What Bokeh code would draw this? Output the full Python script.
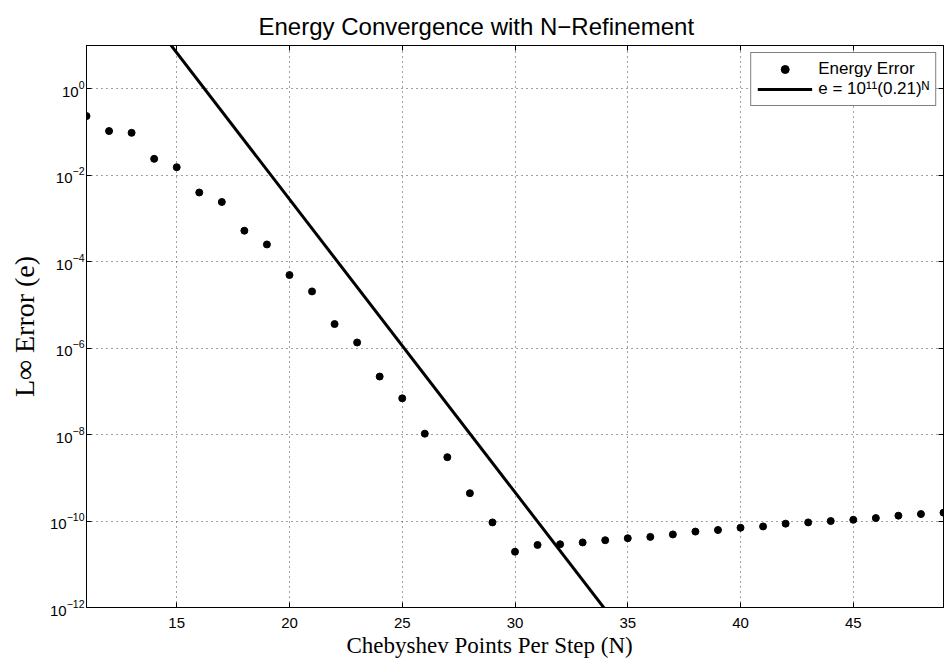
from bokeh.plotting import figure
from bokeh.models import (FixedTicker, Range1d, Legend, LegendItem, Title, ColumnDataSource,
                          LinearAxis, LogAxis)
from bokeh.embed import file_html
from bokeh.resources import INLINE

# ---- data ----
N = list(range(11, 50))
energy_error = [
    0.233, 0.105, 0.0955, 0.0239, 0.0153, 0.00398, 0.0024, 5.2e-4, 2.5e-4, 4.9e-5,
    2.05e-5, 3.6e-6, 1.35e-6, 2.2e-7, 6.9e-8, 1.05e-8, 3.0e-9, 4.4e-10, 9.3e-11, 1.95e-11,
    2.8e-11, 2.9e-11, 3.2e-11, 3.6e-11, 4.0e-11, 4.3e-11, 4.9e-11, 5.7e-11, 6.2e-11, 7.0e-11,
    7.5e-11, 8.7e-11, 9.3e-11, 1.0e-10, 1.07e-10, 1.17e-10, 1.33e-10, 1.45e-10, 1.56e-10,
]
# fitted line from the legend: e = 10^11 (0.21)^N
fit_coef = 1e11
fit_base = 0.21
fit_N = [11, 49]
fit_e = [fit_coef * fit_base ** n for n in fit_N]

x_ticks = [15, 20, 25, 30, 35, 40, 45]
y_ticks = [1e-12, 1e-10, 1e-8, 1e-6, 1e-4, 1e-2, 1e0]

title_text = "Energy Convergence with N\u2212Refinement"
xlabel_text = "Chebyshev Points Per Step (N)"
ylabel_text = "L\u221e Error (e)"
legend_labels = ["Energy Error", "e = 10\u00b9\u00b9(0.21)\u1d3a"]

SANS = "Liberation Sans"
SERIF = "Liberation Serif"

p = figure(width=945, height=663, x_range=Range1d(11, 49), y_range=Range1d(1e-12, 1e1),
           y_axis_type="log", output_backend="svg", toolbar_location=None,
           min_border_left=86, min_border_right=2, min_border_top=45, min_border_bottom=56,
           background_fill_color="white", border_fill_color="white")

p.title.text = title_text
p.title.align = "left"
p.title.offset = 172
p.title.text_font = SANS
p.title.text_font_size = "24px"
p.title.text_font_style = "normal"
p.title.text_color = "black"
p.title.standoff = 10
p.title.vertical_align = "middle"

p.outline_line_color = "black"
p.outline_line_width = 1

for ax in (p.xaxis[0], p.yaxis[0]):
    ax.major_tick_in = 5
    ax.major_tick_out = 0
    ax.minor_tick_in = 0
    ax.minor_tick_out = 0
    ax.major_label_text_font = SANS
    ax.major_label_text_font_size = "15px"
    ax.major_label_text_color = "black"
    ax.axis_line_color = "black"
    ax.major_tick_line_color = "black"

p.xaxis.major_label_standoff = 10
p.yaxis.major_label_standoff = 2

p.xaxis.ticker = FixedTicker(ticks=x_ticks)
p.yaxis.ticker = FixedTicker(ticks=y_ticks)

# tick-only axes on the top and right edges (box style)
top_ax = LinearAxis(ticker=FixedTicker(ticks=x_ticks), major_tick_in=5, major_tick_out=0,
                    minor_tick_in=0, minor_tick_out=0, major_label_text_font_size="1px",
                    major_label_text_color=None, major_label_standoff=0,
                    axis_line_color="black", major_tick_line_color="black")
right_ax = LogAxis(ticker=FixedTicker(ticks=y_ticks), major_tick_in=5, major_tick_out=0,
                   minor_tick_in=0, minor_tick_out=0, major_label_text_font_size="1px",
                   major_label_text_color=None, major_label_standoff=0,
                   axis_line_color="black", major_tick_line_color="black")
p.add_layout(top_ax, "above")
p.add_layout(right_ax, "right")

p.yaxis[0].axis_label = ylabel_text
p.yaxis[0].axis_label_text_font = SERIF
p.yaxis[0].axis_label_text_font_size = "28px"
p.yaxis[0].axis_label_text_font_style = "normal"
p.yaxis[0].axis_label_text_color = "black"
p.yaxis[0].axis_label_standoff = 7

p.xgrid.ticker = FixedTicker(ticks=x_ticks)
p.ygrid.ticker = FixedTicker(ticks=y_ticks)
for g in (p.xgrid[0], p.ygrid[0]):
    g.grid_line_color = "#444444"
    g.grid_line_dash = "1 4"
    g.grid_line_width = 1

src = ColumnDataSource(dict(N=N, e=energy_error))
ln = p.line(fit_N, fit_e, line_color="black", line_width=3)
sc = p.scatter("N", "e", source=src, size=7, color="black")

legend = Legend(items=[LegendItem(label=legend_labels[0], renderers=[sc]),
                       LegendItem(label=legend_labels[1], renderers=[ln])],
                location="top_right")
legend.border_line_color = "black"
legend.border_line_width = 1
legend.background_fill_alpha = 1
legend.label_text_font = SANS
legend.label_text_font_size = "17px"
legend.label_text_color = "black"
legend.glyph_width = 55
legend.glyph_height = 20
legend.label_height = 20
legend.padding = 6
legend.spacing = 0
legend.margin = 7
legend.label_standoff = 6
p.add_layout(legend)

xlab = Title(text=xlabel_text, align="left", offset=260, text_font=SERIF,
             text_font_size="23px", text_font_style="normal", text_color="black",
             standoff=0)
p.add_layout(xlab, "below")

open("out.html", "w").write(file_html(p, INLINE))
